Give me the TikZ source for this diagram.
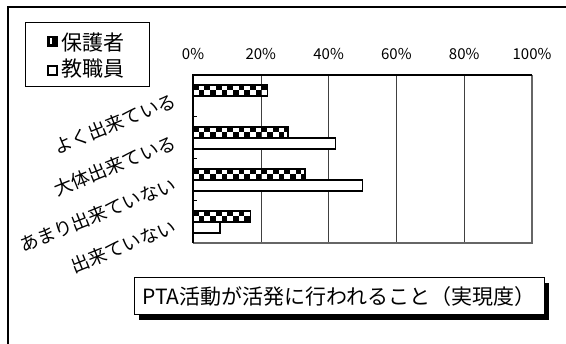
\documentclass[tikz,border=0pt]{standalone}
\usepackage{fontspec}
\newfontfamily\jp{Noto Sans CJK JP}
\usetikzlibrary{shadows}
% checker-filled bar: top y, right end x
\newcommand\chkbar[2]{%
\begin{scope}
\clip(193,#1)rectangle(#2,#1+11);
\foreach \k in {0,...,16}{\fill(193+11.4*\k,#1)rectangle++(5.7,5.5);\fill(198.7+11.4*\k,#1+5.5)rectangle++(5.7,5.5);}
\end{scope}
\draw[line width=1.6pt](193,#1)rectangle(#2,#1+11);}
\begin{document}
\begin{tikzpicture}[x=1pt,y=-1pt,font=\jp,
lbl/.style={anchor=east,rotate=22,inner sep=0pt,font=\jp\fontsize{18.5}{20}\selectfont},
pct/.style={font=\jp\fontsize{15}{16}\selectfont},
big/.style={font=\jp\fontsize{21}{22}\selectfont},
gridline/.style={black!75,line width=0.9pt}]
\useasboundingbox(0,0)rectangle(566,344);
\draw[line width=1.2pt](8,344)--(8,7)--(566,7);
% legend
\draw[line width=1pt](25,23)rectangle(149,87);
\fill(47,36)rectangle(58,47);\fill[white](49.5,38.5)rectangle(52,44.5);
\draw[line width=1.6pt](48,66)rectangle(57,75);
\node[big,anchor=west,inner sep=0pt](leg1)at(61,43){保護者};
\node[big,anchor=west,inner sep=0pt](leg2)at(61,69){教職員};
% axis
\foreach \p in {0,20,...,100}\node[pct](p\p)at(193+3.39*\p,54){\p\%};
\foreach \x in {261,328,396,464}\draw[gridline](\x,75)--(\x,243);
\draw[black!60,line width=1.2pt](532,75)--(532,243)--(193,243);
\draw[line width=1.4pt](532,75)--(193,75)--(193,243);
\foreach \y in {117,159,201}\draw[line width=1pt](193,\y)--(197,\y);
% bars
\foreach \c/\a/\b in {96/22/0,138/28/42,180/33/50,222/17/8}{
\chkbar{\c-11}{193+3.39*\a}
\ifdim\b pt>0pt\draw[line width=1.6pt,fill=white](193,\c)rectangle(193+3.39*\b,\c+11);\fi}
\node[lbl](c1)at(175,99.5){よく出来ている};
\node[lbl](c2)at(175,141.5){大体出来ている};
\node[lbl](c3)at(175,183.5){あまり出来ていない};
\node[lbl](c4)at(175,225.5){出来ていない};
\node[big,draw,fill=white,line width=1pt,minimum width=410pt,minimum height=37pt,inner sep=0pt,
drop shadow={shadow xshift=5pt,shadow yshift=-5pt,opacity=1,fill=black}](title)at(339,296.5){PTA活動が活発に行われること（実現度）};
\end{tikzpicture}
\end{document}
